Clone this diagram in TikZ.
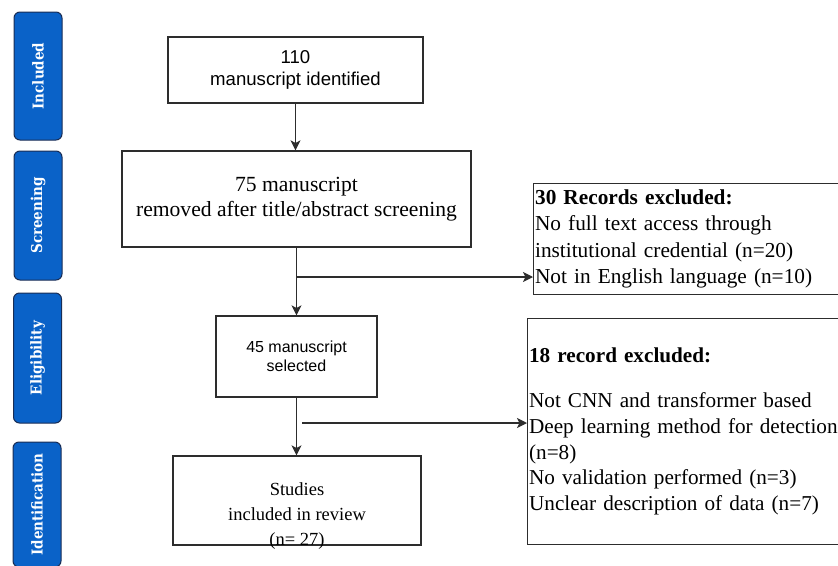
\documentclass[tikz,border=0pt]{standalone}
\usepackage{fontspec}
\setmainfont{Liberation Serif}
\newfontfamily\sansf{Liberation Sans}
\newfontfamily\slabf{DejaVu Serif Condensed}
\usetikzlibrary{arrows.meta}
\definecolor{phaseblue}{RGB}{10,98,200}
\definecolor{phaseedge}{RGB}{25,45,85}
\definecolor{linegray}{RGB}{45,45,45}
\begin{document}
\begin{tikzpicture}[x=1pt,y=-1pt,
  phase/.style={draw=phaseedge, line width=1pt, fill=phaseblue, rounded corners=6pt,
    minimum height=48pt, inner sep=0pt, rotate=90, text=white,
    font=\slabf\bfseries\fontsize{15}{17}\selectfont},
  flowbox/.style={draw=linegray, line width=1.2pt, inner sep=0pt},
  arr/.style={draw=linegray, line width=1.2pt, -{Stealth[length=10pt,width=10pt,inset=2.5pt]}}]
\useasboundingbox (0,0) rectangle (838,565);
\clip (0,0) rectangle (838,565);

% phase labels
\node[phase, minimum width=128pt] (p1) at (38,76) {Included};
\node[phase, minimum width=129pt] (p2) at (38,215.5) {Screening};
\node[phase, minimum width=130pt] (p3) at (37.5,358) {Eligibility};
\node[phase, minimum width=125pt] (p4) at (37,504.5) {Identification};

% flow boxes
\node[flowbox, minimum width=255pt, minimum height=66pt, align=center,
  font=\sansf\fontsize{18.6}{22}\selectfont] (n1) at (295.5,70) {110\\manuscript identified};
\node[flowbox, minimum width=349pt, minimum height=96pt, align=center,
  font=\fontsize{21.6}{25}\selectfont] (n2) at (296.5,199) {75 manuscript\\removed after title/abstract screening};
\node[flowbox, minimum width=161pt, minimum height=81pt, align=center,
  font=\sansf\fontsize{16}{19.5}\selectfont] (n3) at (296.5,356.5) {45 manuscript\\selected};
\node[flowbox, minimum width=248pt, minimum height=89pt] (n4) at (297,500.5) {};
\node[align=center, inner sep=0pt, font=\fontsize{18.5}{25}\selectfont] (t4) at (297,516) {Studies\\included in review\\(n= 27)};

% exclusion boxes
\node[flowbox, anchor=north west, minimum width=312pt, minimum height=111pt,
  text width=309pt, inner xsep=1.5pt, align=left,
  font=\fontsize{21.3}{26.5}\selectfont] (r1) at (533,183)
  {\textbf{30 Records excluded:}\\No full text access through\\institutional credential (n=20)\\Not in English language (n=10)};
\node[flowbox, anchor=north west, minimum width=318pt, minimum height=226pt,
  text width=315pt, inner xsep=1.5pt, align=left,
  font=\fontsize{21.2}{25.7}\selectfont] (r2) at (527,318)
  {\textbf{18 record excluded:}\\[19.3pt]Not CNN and transformer based\\Deep learning method for detection\\(n=8)\\No validation performed (n=3)\\Unclear description of data (n=7)};

% connectors
\draw[arr] (n1.south) -- (n1.south |- n2.north);
\draw[arr] (n2.south) -- (n2.south |- n3.north);
\coordinate (b1) at (296.5,277);
\draw[arr] (b1) -- (b1 -| r1.west);
\draw[arr] (n3.south) -- (n3.south |- n4.north);
\coordinate (b2) at (302,423);
\draw[arr] (b2) -- (b2 -| r2.west);
\end{tikzpicture}
\end{document}
